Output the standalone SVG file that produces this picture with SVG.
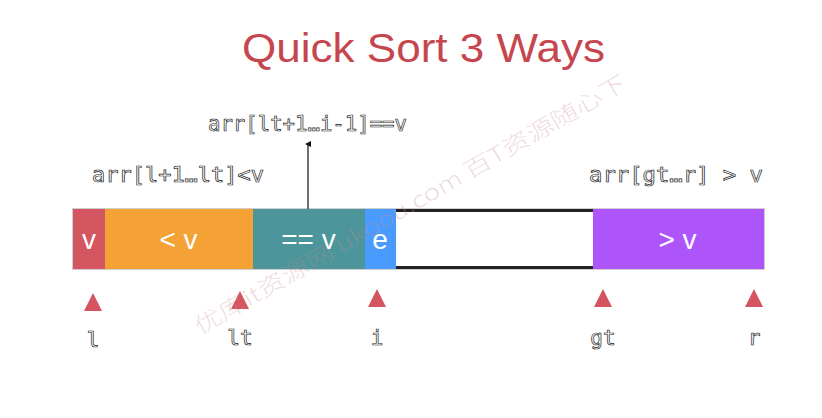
<svg xmlns="http://www.w3.org/2000/svg" width="822" height="418" viewBox="0 0 822 418">
<defs>
<style>
.title{font-family:"Liberation Sans",Arial,sans-serif;font-size:41px;fill:#c6464f;}
.seg{font-family:"Liberation Sans",Arial,sans-serif;font-size:28px;fill:#ffffff;text-anchor:middle;}
.code{font-family:"DejaVu Sans Mono","Liberation Mono",monospace;font-size:21px;fill:#ffffff;stroke:#1a1a1a;stroke-width:0.7px;}
.idx{font-family:"DejaVu Sans Mono","Liberation Mono",monospace;font-size:21px;fill:#ffffff;stroke:#1a1a1a;stroke-width:0.7px;text-anchor:middle;}
.tri{fill:#d4545f;}
.wm{font-family:"Noto Sans CJK SC",sans-serif;font-size:22px;font-weight:300;fill:#c98a95;fill-opacity:0.32;}
</style>
<marker id="ah" markerWidth="6" markerHeight="6" refX="3" refY="3" orient="auto" markerUnits="userSpaceOnUse">
<path d="M0,6 L3,0 L6,6 Z" fill="#111"/>
</marker>
</defs>
<rect width="822" height="418" fill="#ffffff"/>
<g id="title"><text class="title" x="242" y="62" textLength="363" lengthAdjust="spacingAndGlyphs">Quick Sort 3 Ways</text></g>

<g id="bar">
<rect x="73" y="209" width="691" height="60" fill="none" stroke="#cfcfcf" stroke-width="2"/>
<g id="seg-v"><rect x="73" y="209" width="32" height="60" fill="#d35660"/><text class="seg" x="89" y="249">v</text></g>
<g id="seg-lt"><rect x="105" y="209" width="148" height="60" fill="#f4a235"/><text class="seg" x="178.5" y="249">&lt; v</text></g>
<g id="seg-eq"><rect x="253" y="209" width="112" height="60" fill="#4b959b"/><text class="seg" x="308.5" y="249">== v</text></g>
<g id="seg-e"><rect x="365" y="209" width="31" height="60" fill="#4a9bfe"/><text class="seg" x="380" y="249">e</text></g>
<g id="seg-unk"><rect x="396" y="209" width="197" height="60" fill="#ffffff"/><line x1="396" y1="210.5" x2="593" y2="210.5" stroke="#222" stroke-width="3"/><line x1="396" y1="267.5" x2="593" y2="267.5" stroke="#222" stroke-width="3"/></g>
<g id="seg-gt"><rect x="593" y="209" width="171" height="60" fill="#ad55fb"/><text class="seg" x="677.5" y="249">&gt; v</text></g>
</g>

<g id="label-lt"><text class="code" x="92" y="182" textLength="172" lengthAdjust="spacingAndGlyphs">arr[l+1…lt]&lt;v</text></g>
<g id="label-eq"><text class="code" x="208" y="131" textLength="199" lengthAdjust="spacingAndGlyphs">arr[lt+1…i-1]==v</text></g>
<g id="label-gt"><text class="code" x="589" y="182" textLength="174" lengthAdjust="spacingAndGlyphs">arr[gt…r] &gt; v</text></g>

<g id="connectors">
<line x1="308" y1="209" x2="308" y2="144" stroke="#111" stroke-width="1.2" marker-end="url(#ah)"/>
</g>

<g id="ptr-l"><path class="tri" d="M84,311 L93,293 L102,311 Z"/><text class="idx" x="93" y="347">l</text></g>
<g id="ptr-lt"><path class="tri" d="M231,309 L240,291 L249,309 Z"/><text class="idx" x="240" y="345">lt</text></g>
<g id="ptr-i"><path class="tri" d="M368,307 L377,289 L386,307 Z"/><text class="idx" x="377" y="345">i</text></g>
<g id="ptr-gt"><path class="tri" d="M594,307 L603,289 L612,307 Z"/><text class="idx" x="603" y="345">gt</text></g>
<g id="ptr-r"><path class="tri" d="M745,307 L754,289 L763,307 Z"/><text class="idx" x="754" y="345">r</text></g>

<g id="watermark"><text class="wm" x="200" y="335" transform="rotate(-30 200 335)" textLength="495" lengthAdjust="spacingAndGlyphs">优库it资源网 ukoou.com 百T资源随心下</text></g>
</svg>
